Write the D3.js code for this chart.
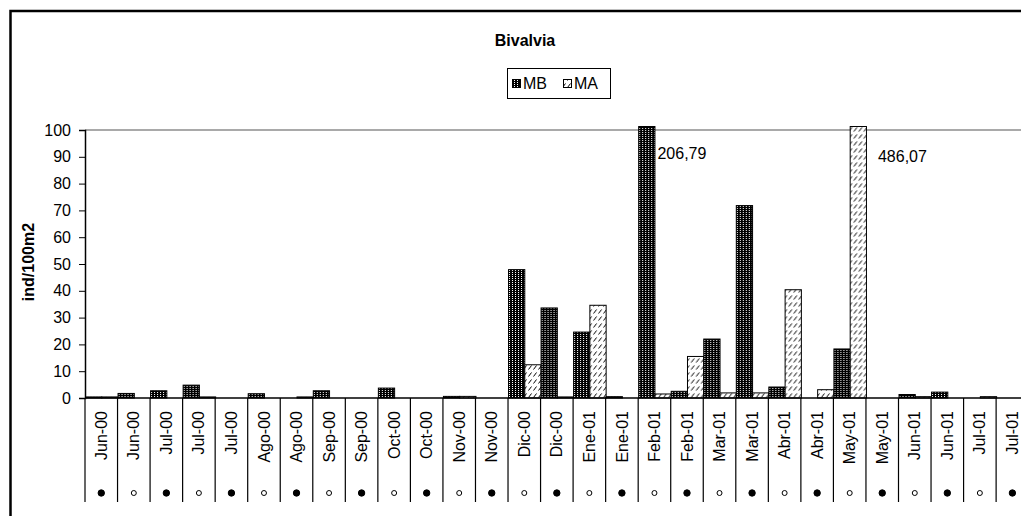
<!DOCTYPE html>
<html>
<head>
<meta charset="utf-8">
<script src="https://cdn.jsdelivr.net/npm/d3@7"></script>
<style>
  html, body { margin: 0; padding: 0; background: #fff; }
  svg { display: block; font-family: "Liberation Sans", Arial, sans-serif; }
</style>
</head>
<body>
<div id="chart"></div>
<script>
'use strict';

// categories (two samplings per month), moon phase marker under each
var categories = ['Jun-00','Jun-00','Jul-00','Jul-00','Jul-00','Ago-00','Ago-00','Sep-00','Sep-00',
  'Oct-00','Oct-00','Nov-00','Nov-00','Dic-00','Dic-00','Ene-01','Ene-01','Feb-01','Feb-01',
  'Mar-01','Mar-01','Abr-01','Abr-01','May-01','May-01','Jun-01','Jun-01','Jul-01','Jul-01'];
var moonFull = [1,0,1,0,1,0,1,0,1,0,1,0,1,0,1,0,1,0,1,0,1,0,1,0,1,0,1,0,1];

var seriesNames = ['MB', 'MA'];
var mbValues = [0.4, 1.7, 2.7, 4.8, 0, 1.6, 0, 2.7, 0, 3.7, 0, 0.6, 0, 47.9, 33.6, 24.6, 0.5,
  206.79, 2.5, 22.0, 71.8, 4.1, 0, 18.3, 0, 1.3, 2.2, 0, 0];
var maValues = [0.4, 0, 0, 0.4, 0, 0, 0.4, 0, 0, 0, 0, 0.6, 0, 12.4, 0.4, 34.6, 0,
  1.5, 15.5, 1.9, 1.9, 40.4, 3.1, 486.07, 0, 0.5, 0, 0.5, 0];
var yTicks = [0, 10, 20, 30, 40, 50, 60, 70, 80, 90, 100];

var W = 1021, H = 516,
    padl = 85, step = 32.54,
    y0 = 398, y100 = 130,
    fs = 16;

var svg = d3.select('#chart').append('svg')
    .attr('width', W).attr('height', H);

svg.append('rect').attr('width', W).attr('height', H).attr('fill', '#fff');

var defs = svg.append('defs');

// dark dotted fill for MB
var pMB = defs.append('pattern').attr('id', 'pMB')
    .attr('patternUnits', 'userSpaceOnUse').attr('width', 3).attr('height', 2);
pMB.append('rect').attr('width', 3).attr('height', 2).attr('fill', '#000');
pMB.append('rect').attr('x', 1).attr('y', 0).attr('width', 1).attr('height', 1).attr('fill', '#fff');

// short upward hatch for MA
var pMA = defs.append('pattern').attr('id', 'pMA')
    .attr('patternUnits', 'userSpaceOnUse').attr('width', 5).attr('height', 7);
pMA.append('rect').attr('width', 5).attr('height', 7).attr('fill', '#fff');
pMA.append('path').attr('d', 'M0.5,5.5 L3.5,1.5').attr('stroke', '#000').attr('stroke-width', 1);

var fills = { MB: 'url(#pMB)', MA: 'url(#pMA)' };

var x = d3.scaleBand()
    .domain(d3.range(categories.length))
    .range([padl, padl + step * categories.length])
    .padding(0);
var xs = d3.scaleBand().domain(seriesNames).range([0, x.bandwidth()]).padding(0);
var y = d3.scaleLinear().domain([0, 100]).range([y0, y100]);
var yMax = 101.3; // bars past the top are cut here

// chart frame (only left and top visible in the crop)
svg.append('path')
    .attr('d', 'M10.5,' + H + ' V11 H' + W)
    .attr('fill', 'none').attr('stroke', '#000').attr('stroke-width', 2.5);

// title
svg.append('text')
    .attr('x', 525).attr('y', 46)
    .attr('text-anchor', 'middle')
    .attr('font-size', fs).attr('font-weight', 'bold')
    .text('Bivalvia');

// legend
var lg = svg.append('g').attr('transform', 'translate(507,68)');
lg.append('rect').attr('x', 0.5).attr('y', 0.5).attr('width', 103).attr('height', 30)
    .attr('fill', '#fff').attr('stroke', '#000');
seriesNames.forEach(function(s, i) {
  var gx = 5 + i * 51;
  lg.append('rect').attr('x', gx + 0.5).attr('y', 11.5).attr('width', 8).attr('height', 8)
      .attr('fill', fills[s]).attr('stroke', '#000');
  lg.append('text').attr('x', gx + 11).attr('y', 21)
      .attr('font-size', fs).text(s);
});

// gridline at 100
svg.append('line')
    .attr('x1', padl).attr('x2', W)
    .attr('y1', y(100)).attr('y2', y(100))
    .attr('stroke', '#8c8c8c').attr('stroke-width', 1.5);

// bars
var rows = categories.map(function(c, i) {
  return [{ s: 'MB', v: mbValues[i], i: i }, { s: 'MA', v: maValues[i], i: i }];
});
var groups = svg.selectAll('g.cat')
    .data(rows).enter().append('g')
    .attr('class', 'cat')
    .attr('transform', function(d, i) { return 'translate(' + x(i) + ',0)'; });

groups.selectAll('rect')
    .data(function(d) { return d.filter(function(e) { return e.v > 0; }); })
    .enter().append('rect')
    .attr('x', function(d) { return xs(d.s) + 0.5; })
    .attr('width', xs.bandwidth())
    .attr('y', function(d) { return y(Math.min(d.v, yMax)); })
    .attr('height', function(d) { return y0 - y(Math.min(d.v, yMax)); })
    .attr('fill', function(d) { return fills[d.s]; })
    .attr('stroke', '#000').attr('stroke-width', 1);

// value labels for the cut bars
var big = [];
mbValues.forEach(function(v, i) { if (v > 100) big.push({ s: 'MB', v: v, i: i, dx: 3 }); });
maValues.forEach(function(v, i) { if (v > 100) big.push({ s: 'MA', v: v, i: i, dx: 12 }); });
svg.selectAll('text.big')
    .data(big).enter().append('text')
    .attr('class', 'big')
    .attr('x', function(d) { return x(d.i) + xs(d.s) + xs.bandwidth() + d.dx; })
    .attr('y', function(d) { return y(89) + (d.s === 'MA' ? 3 : 0); })
    .attr('font-size', fs)
    .text(function(d) { return d3.format('.2f')(d.v).replace('.', ','); });

// y axis
var yAxis = svg.append('g')
    .attr('transform', 'translate(' + padl + ',0)')
    .call(d3.axisLeft(y).tickValues(yTicks).tickSize(6).tickPadding(8));
yAxis.select('.domain').attr('stroke', '#000').attr('stroke-width', 1.5);
yAxis.selectAll('.tick line').attr('stroke', '#000');
yAxis.selectAll('text').attr('font-size', fs).attr('fill', '#000')
    .attr('font-family', '"Liberation Sans", Arial, sans-serif');

svg.append('text')
    .attr('transform', 'translate(34,262) rotate(-90)')
    .attr('text-anchor', 'middle')
    .attr('font-size', fs).attr('font-weight', 'bold')
    .text('ind/100m2');

// x axis: baseline, long separators, rotated labels, moon dots
svg.append('line')
    .attr('x1', padl).attr('x2', W)
    .attr('y1', y0).attr('y2', y0)
    .attr('stroke', '#000').attr('stroke-width', 1.5);

svg.selectAll('line.sep')
    .data(d3.range(categories.length + 1)).enter().append('line')
    .attr('class', 'sep')
    .attr('x1', function(i) { return x.range()[0] + i * x.step(); })
    .attr('x2', function(i) { return x.range()[0] + i * x.step(); })
    .attr('y1', y0).attr('y2', 502)
    .attr('stroke', '#000').attr('stroke-width', 1.2);

svg.selectAll('text.cat')
    .data(categories).enter().append('text')
    .attr('class', 'cat')
    .attr('transform', function(d, i) {
      return 'translate(' + (x(i) + x.bandwidth() / 2) + ',411) rotate(-90)';
    })
    .attr('text-anchor', 'end')
    .attr('dy', '0.35em')
    .attr('font-size', fs)
    .text(function(d) { return d; });

svg.selectAll('circle.moon')
    .data(moonFull).enter().append('circle')
    .attr('class', 'moon')
    .attr('cx', function(d, i) { return x(i) + x.bandwidth() / 2; })
    .attr('cy', 493)
    .attr('r', function(d) { return d ? 3.2 : 2.5; })
    .attr('fill', function(d) { return d ? '#000' : '#fff'; })
    .attr('stroke', '#000').attr('stroke-width', 1);
</script>
</body>
</html>
